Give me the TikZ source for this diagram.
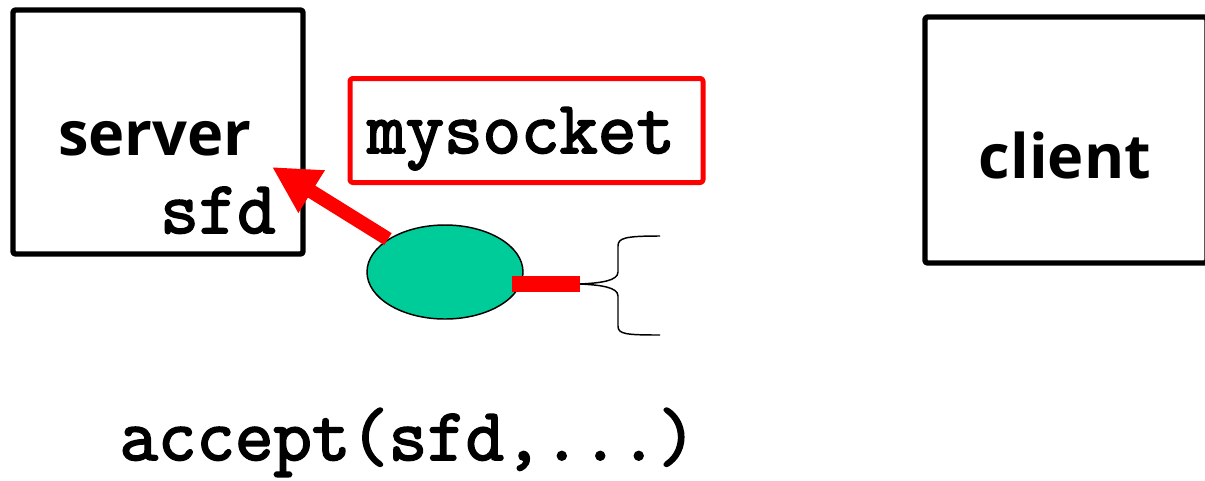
\documentclass[tikz,border=0pt]{standalone}
\usepackage{fontspec}
\newfontfamily\labelsans{Open Sans}
\newfontfamily\labelmono[FakeBold=2.5]{Latin Modern Mono}
\usetikzlibrary{arrows.meta,shapes.geometric}
\definecolor{sockgreen}{RGB}{0,204,153}

\begin{document}
\begin{tikzpicture}[x=0.75pt, y=-0.75pt, line join=round,
    hostbox/.style={draw=black, line width=4.1pt, rounded corners=2pt,
      inner sep=0pt},
    namebox/.style={draw=red, line width=3.75pt, rounded corners=2pt,
      inner sep=0pt},
    sanstext/.style={font=\labelsans\bfseries\fontsize{46}{50}\selectfont,
      anchor=base, inner sep=0pt},
    monotext/.style={font=\labelmono\fontsize{56}{60}\selectfont,
      anchor=base, inner sep=0pt},
    sockarrow/.style={red, line width=10.5pt,
      -{Triangle[length=35pt, width=35pt]}},
    sockbar/.style={red, line width=12pt}]
  \useasboundingbox (0,0) rectangle (1205,480);

  % Prozesse
  \node[hostbox, minimum width=217.5pt, minimum height=183pt] (serverbox) at (158,132) {};
  \node[sanstext] (server) at (155,155) {server};
  \node[monotext] (sfd) at (218,233) {sfd};
  \node[hostbox, minimum width=211.5pt, minimum height=184.5pt] (clientbox) at (1066,140) {};
  \node[sanstext] (client) at (1065,178) {client};

  % Name des Sockets
  \node[namebox, minimum width=264.75pt, minimum height=78pt] (namebox) at (526.5,130.5) {};
  \node[monotext] (mysocket) at (521,153) {mysocket};

  % Socket mit Pfeil auf den Deskriptor
  \coordinate (sfdtip) at (272,167);
  \coordinate (barstart) at (512,284);
  \coordinate (bracetip) at (580,284);
  \node[draw=black, line width=1.1pt, fill=sockgreen, ellipse, inner sep=0pt,
    minimum width=117pt, minimum height=70.5pt] (sock) at (445,272) {};
  \draw[sockarrow] (sock.150) -- (sfdtip);
  \draw[sockbar] (barstart) -- (bracetip);

  % offene Klammer
  \draw[line width=1.1pt] (bracetip) .. controls (600,285) and (618,287) .. (618,296)
    -- (618,326) .. controls (618,334) and (625,335) .. (660,335);
  \draw[line width=1.1pt] (bracetip) .. controls (600,283) and (618,281) .. (618,272)
    -- (618,246) .. controls (618,238) and (625,236) .. (660,236);

  % Aufruf
  \node[monotext] (call) at (408,460) {accept(sfd,...)};
\end{tikzpicture}
\end{document}
